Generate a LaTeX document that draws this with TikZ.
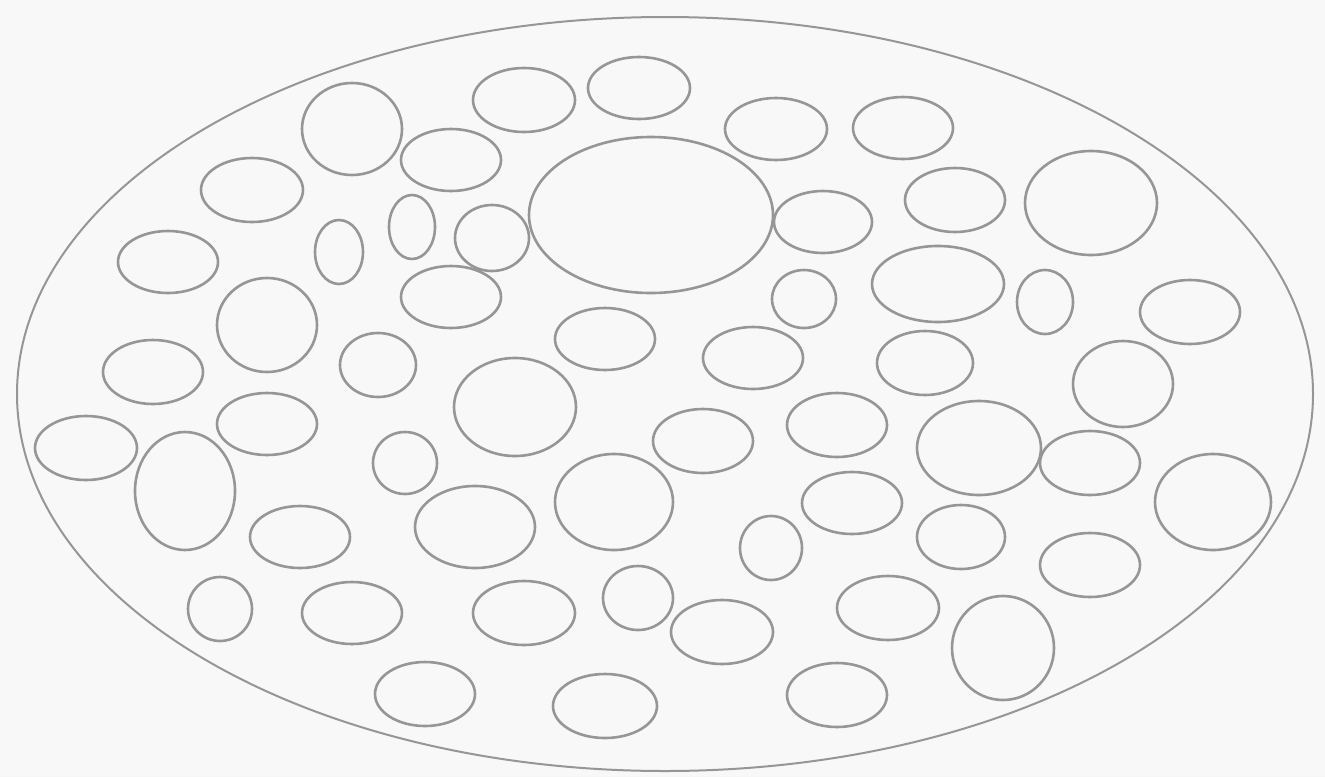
\documentclass[tikz,border=0pt]{standalone}
\definecolor{bg}{RGB}{248,248,249}
\definecolor{ln}{RGB}{150,150,150}
\begin{document}
\begin{tikzpicture}[x=1pt,y=-1pt,
  cell/.style={draw=ln,line width=2.6pt},
  outer/.style={draw=ln,line width=2pt}]
\fill[bg] (0,0) rectangle (1325,777);
\useasboundingbox (0,0) rectangle (1325,777);
% outer membrane
\draw[outer] (665,394) ellipse [x radius=648pt, y radius=377pt];
% inner ellipses: x, y, rx, ry
\foreach \x/\y/\a/\b in {
 352/129/50/46, 524/100/51/32, 639/88/51/31, 776/129/51/31, 903/128/50/31,
 451/160/50/31, 252/190/51/32, 651/215/122/78, 823/222/49/31, 955/200/50/32,
 1091/203/66/52, 168/262/50/31, 339/252/24/32, 412/227/23/32, 492/238/37/33,
 451/297/50/31, 267/325/50/47, 804/299/32/29, 938/284/66/38, 1045/302/28/32,
 1190/312/50/32, 153/372/50/32, 378/365/38/32, 605/339/50/31, 753/358/50/31,
 925/363/48/32, 1123/384/50/43, 515/407/61/49, 267/424/50/31, 86/448/51/32,
 185/491/50/59, 405/463/32/31, 703/441/50/32, 837/425/50/32, 979/448/62/47,
 1090/463/50/32, 1213/502/58/48, 614/502/59/48, 475/527/60/41, 300/537/50/31,
 852/503/50/31, 771/548/31/32, 961/537/44/32, 1090/565/50/32, 220/609/32/32,
 352/613/50/31, 524/613/51/32, 638/598/35/32, 722/632/51/32, 888/608/51/32,
 1003/648/51/52, 425/694/50/32, 605/706/52/32, 837/695/50/32}
  \draw[cell] (\x,\y) ellipse [x radius=\a pt, y radius=\b pt];
\end{tikzpicture}
\end{document}
